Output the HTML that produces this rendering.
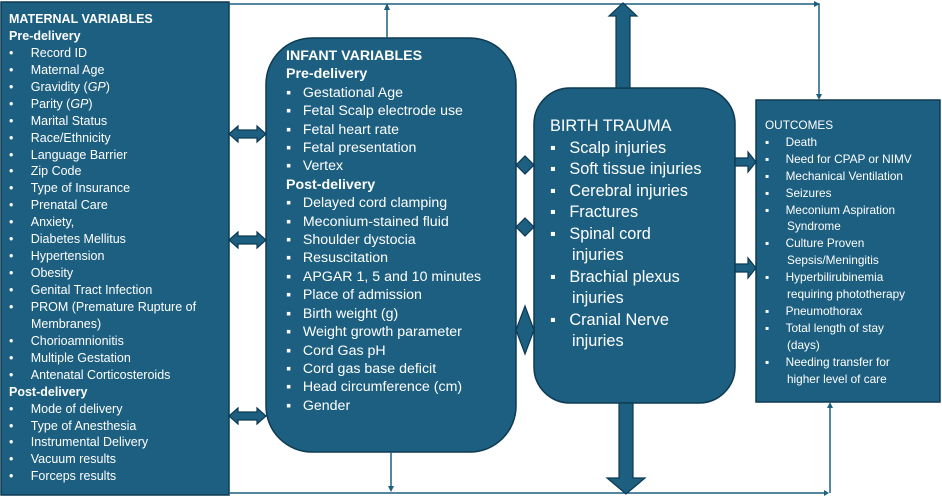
<!DOCTYPE html>
<html><head><meta charset="utf-8"><style>
body{margin:0;width:942px;height:498px;background:#fff;position:relative;overflow:hidden;font-family:"Liberation Sans",sans-serif;color:#fff}
.t{position:absolute;white-space:nowrap}
.b{font-weight:bold}
</style></head><body>
<svg width="942" height="498" style="position:absolute;left:0;top:0">
<g fill="#1c5f80" stroke="#0e3a52" stroke-width="1.5">
<rect x="1" y="2" width="228" height="493"/>
<rect x="266" y="38" width="250" height="414" rx="46"/>
<rect x="534" y="88" width="201" height="315" rx="36"/>
<rect x="756" y="100" width="184" height="302"/>
</g>
<g stroke="#1c5f80" stroke-width="1.5" fill="none">
<polyline points="229,4 819,4 819,96"/>
<line x1="387" y1="38" x2="387" y2="8"/>
<line x1="229" y1="493" x2="826" y2="493"/>
<line x1="391" y1="452" x2="391" y2="489"/>
<line x1="830" y1="493" x2="830" y2="406"/>
</g>
<g fill="#1c5f80">
<polygon points="814,1 820,4 814,7"/>
<polygon points="816,94 819,100 822,94"/>
<polygon points="384,10 387,3 390,10"/>
<polygon points="388,486 391,492 394,486"/>
<polygon points="827,408 830,402 833,408"/>
<polygon points="824,490 829,493 824,496"/>
</g>
<g fill="#1c5f80" stroke="#0e3a52" stroke-width="1.2">
<polygon points="616,88 616,16 609,16 623,3 637,16 630,16 630,88"/>
<polygon points="619,403 619,478 607,478 626,494 645,478 633,478 633,403"/>
<polygon points="735,158 748,158 748,152 756,162 748,172 748,166 735,166"/>
<polygon points="735,264 748,264 748,258 756,268 748,278 748,272 735,272"/>
<polygon points="229,134 238,126 238,130 257,130 257,126 266,134 257,142 257,138 238,138 238,142"/>
<polygon points="229,240 238,232 238,236 257,236 257,232 266,240 257,248 257,244 238,244 238,248"/>
<polygon points="229,416 238,408 238,412 257,412 257,408 266,416 257,424 257,420 238,420 238,424"/>
<polygon points="516,165 525,156 534,165 525,174"/>
<polygon points="516,227 525,218 534,227 525,236"/>
<polygon points="516,330 525,306 534,330 525,354"/>
</g>
</svg>
<div style="position:absolute;left:9px;top:11px;font-size:12.5px;line-height:16.93px">
<div class="b">MATERNAL VARIABLES</div><div class="b">Pre-delivery</div>
<div>•&nbsp;&nbsp;&nbsp;&nbsp;&nbsp;Record ID</div><div>•&nbsp;&nbsp;&nbsp;&nbsp;&nbsp;Maternal Age</div><div>•&nbsp;&nbsp;&nbsp;&nbsp;&nbsp;Gravidity (<i>GP</i>)</div><div>•&nbsp;&nbsp;&nbsp;&nbsp;&nbsp;Parity (<i>GP</i>)</div><div>•&nbsp;&nbsp;&nbsp;&nbsp;&nbsp;Marital Status</div><div>•&nbsp;&nbsp;&nbsp;&nbsp;&nbsp;Race/Ethnicity</div><div>•&nbsp;&nbsp;&nbsp;&nbsp;&nbsp;Language Barrier</div><div>•&nbsp;&nbsp;&nbsp;&nbsp;&nbsp;Zip Code</div><div>•&nbsp;&nbsp;&nbsp;&nbsp;&nbsp;Type of Insurance</div><div>•&nbsp;&nbsp;&nbsp;&nbsp;&nbsp;Prenatal Care</div><div>•&nbsp;&nbsp;&nbsp;&nbsp;&nbsp;Anxiety,</div><div>•&nbsp;&nbsp;&nbsp;&nbsp;&nbsp;Diabetes Mellitus</div><div>•&nbsp;&nbsp;&nbsp;&nbsp;&nbsp;Hypertension</div><div>•&nbsp;&nbsp;&nbsp;&nbsp;&nbsp;Obesity</div><div>•&nbsp;&nbsp;&nbsp;&nbsp;&nbsp;Genital Tract Infection</div><div>•&nbsp;&nbsp;&nbsp;&nbsp;&nbsp;PROM (Premature Rupture of</div><div style="padding-left:22px">Membranes)</div><div>•&nbsp;&nbsp;&nbsp;&nbsp;&nbsp;Chorioamnionitis</div><div>•&nbsp;&nbsp;&nbsp;&nbsp;&nbsp;Multiple Gestation</div><div>•&nbsp;&nbsp;&nbsp;&nbsp;&nbsp;Antenatal Corticosteroids</div>
<div class="b">Post-delivery</div>
<div>•&nbsp;&nbsp;&nbsp;&nbsp;&nbsp;Mode of delivery</div><div>•&nbsp;&nbsp;&nbsp;&nbsp;&nbsp;Type of Anesthesia</div><div>•&nbsp;&nbsp;&nbsp;&nbsp;&nbsp;Instrumental Delivery</div><div>•&nbsp;&nbsp;&nbsp;&nbsp;&nbsp;Vacuum results</div><div>•&nbsp;&nbsp;&nbsp;&nbsp;&nbsp;Forceps results</div>
</div>
<div style="position:absolute;left:286px;top:47px;font-size:14.2px;line-height:18.4px">
<div class="b">INFANT VARIABLES</div><div class="b">Pre-delivery</div>
<div>▪&nbsp;&nbsp;&nbsp;Gestational Age</div><div>▪&nbsp;&nbsp;&nbsp;Fetal Scalp electrode use</div><div>▪&nbsp;&nbsp;&nbsp;Fetal heart rate</div><div>▪&nbsp;&nbsp;&nbsp;Fetal presentation</div><div>▪&nbsp;&nbsp;&nbsp;Vertex</div>
<div class="b">Post-delivery</div>
<div>▪&nbsp;&nbsp;&nbsp;Delayed cord clamping</div><div>▪&nbsp;&nbsp;&nbsp;Meconium-stained fluid</div><div>▪&nbsp;&nbsp;&nbsp;Shoulder dystocia</div><div>▪&nbsp;&nbsp;&nbsp;Resuscitation</div><div>▪&nbsp;&nbsp;&nbsp;APGAR 1, 5 and 10 minutes</div><div>▪&nbsp;&nbsp;&nbsp;Place of admission</div><div>▪&nbsp;&nbsp;&nbsp;Birth weight (g)</div><div>▪&nbsp;&nbsp;&nbsp;Weight growth parameter</div><div>▪&nbsp;&nbsp;&nbsp;Cord Gas pH</div><div>▪&nbsp;&nbsp;&nbsp;Cord gas base deficit</div><div>▪&nbsp;&nbsp;&nbsp;Head circumference (cm)</div><div>▪&nbsp;&nbsp;&nbsp;Gender</div>
</div>
<div style="position:absolute;left:550px;top:116px;font-size:16.3px;line-height:21.5px">
<div>BIRTH TRAUMA</div>
<div>▪&nbsp;&nbsp;&nbsp;Scalp injuries</div><div>▪&nbsp;&nbsp;&nbsp;Soft tissue injuries</div><div>▪&nbsp;&nbsp;&nbsp;Cerebral injuries</div><div>▪&nbsp;&nbsp;&nbsp;Fractures</div><div>▪&nbsp;&nbsp;&nbsp;Spinal cord</div><div style="padding-left:22px">injuries</div><div>▪&nbsp;&nbsp;&nbsp;Brachial plexus</div><div style="padding-left:22px">injuries</div><div>▪&nbsp;&nbsp;&nbsp;Cranial Nerve</div><div style="padding-left:22px">injuries</div>
</div>
<div style="position:absolute;left:765px;top:117px;font-size:11.8px;line-height:16.9px">
<div>OUTCOMES</div>
<div>▪&nbsp;&nbsp;&nbsp;&nbsp;&nbsp;Death</div><div>▪&nbsp;&nbsp;&nbsp;&nbsp;&nbsp;Need for CPAP or NIMV</div><div>▪&nbsp;&nbsp;&nbsp;&nbsp;&nbsp;Mechanical Ventilation</div><div>▪&nbsp;&nbsp;&nbsp;&nbsp;&nbsp;Seizures</div><div>▪&nbsp;&nbsp;&nbsp;&nbsp;&nbsp;Meconium Aspiration</div><div style="padding-left:22px">Syndrome</div><div>▪&nbsp;&nbsp;&nbsp;&nbsp;&nbsp;Culture Proven</div><div style="padding-left:22px">Sepsis/Meningitis</div><div>▪&nbsp;&nbsp;&nbsp;&nbsp;&nbsp;Hyperbilirubinemia</div><div style="padding-left:22px">requiring phototherapy</div><div>▪&nbsp;&nbsp;&nbsp;&nbsp;&nbsp;Pneumothorax</div><div>▪&nbsp;&nbsp;&nbsp;&nbsp;&nbsp;Total length of stay</div><div style="padding-left:22px">(days)</div><div>▪&nbsp;&nbsp;&nbsp;&nbsp;&nbsp;Needing transfer for</div><div style="padding-left:22px">higher level of care</div>
</div>
</body></html>
